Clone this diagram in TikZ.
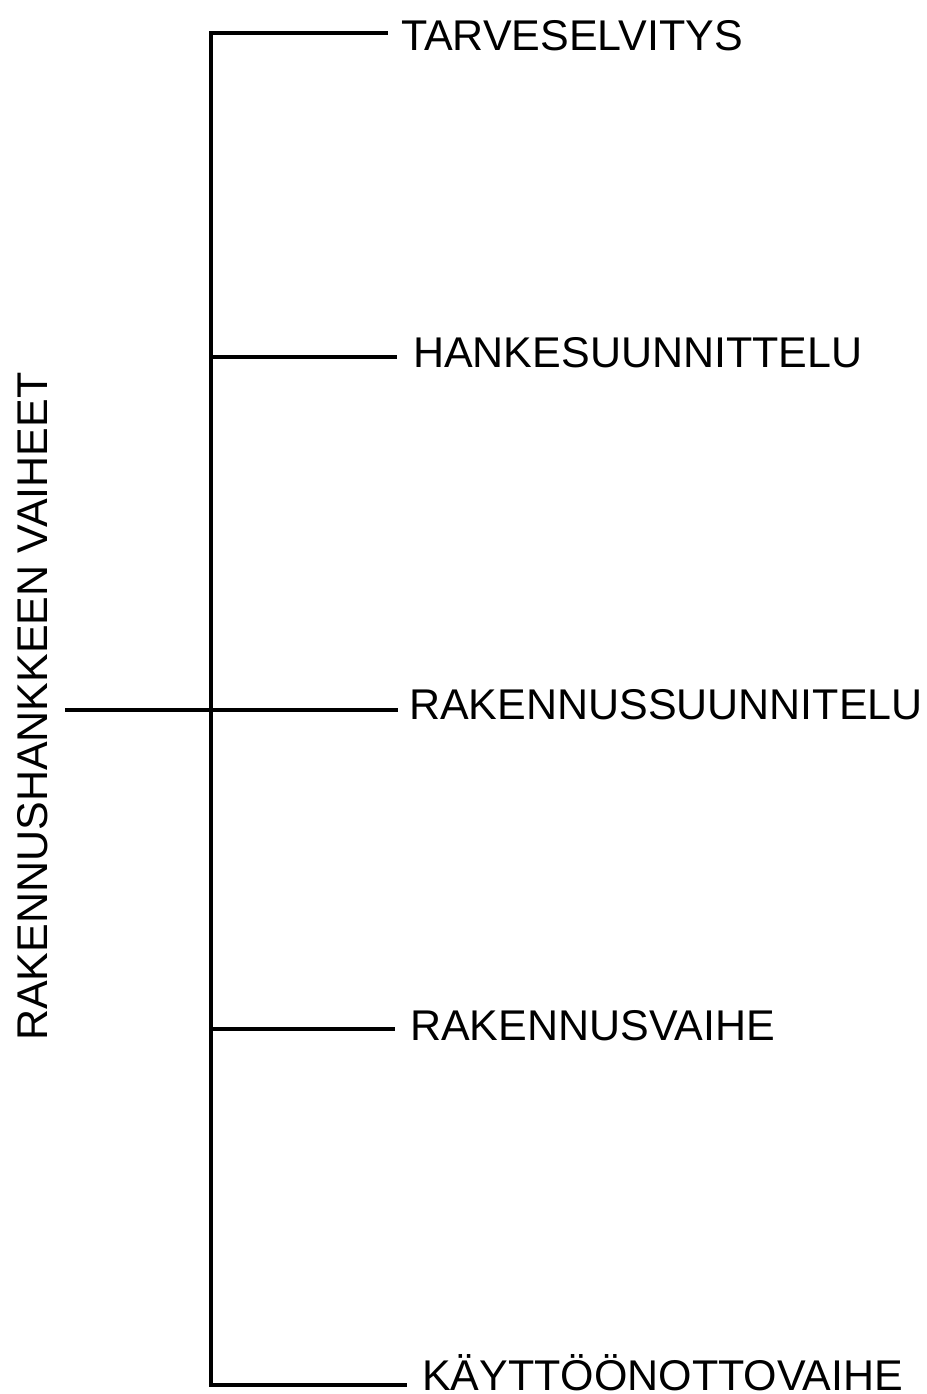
\documentclass[tikz,border=0pt]{standalone}
\usepackage{fontspec}
\setmainfont{Liberation Sans}
\begin{document}
\begin{tikzpicture}[x=1pt,y=-1pt,
  lbl/.style={anchor=base west,inner sep=0pt,font=\fontsize{43}{51}\selectfont},
  conn/.style={line width=4pt}]
\useasboundingbox (0,0) rectangle (926,1394);
% trunk
\coordinate (top) at (211,33);
\coordinate (bot) at (211,1385);
\coordinate (mid) at (211,710);
\coordinate (j2) at (211,357);
\coordinate (j4) at (211,1029);
% line ends
\coordinate (e1) at (386,33);
\coordinate (e2) at (397,357);
\coordinate (e3) at (398,710);
\coordinate (e4) at (395,1029);
\coordinate (e5) at (405,1385);
\coordinate (root) at (65,710);
% labels
\node[lbl] (l1) at (401,51) {TARVESELVITYS};
\node[lbl] (l2) at (413,367) {HANKESUUNNITTELU};
\node[lbl] (l3) at (409,719) {RAKENNUSSUUNNITELU};
\node[lbl] (l4) at (410,1040) {RAKENNUSVAIHE};
\node[lbl] (l5) at (422,1390) {KÄYTTÖÖNOTTOVAIHE};
\node[lbl,rotate=90] (main) at (47,1041) {RAKENNUSHANKKEEN VAIHEET};
% connectors
\draw[conn,line cap=rect] (e1) -- (top) -- (bot) -- (e5);
\draw[conn] (j2) -- (e2);
\draw[conn] (root) -- (e3);
\draw[conn] (j4) -- (e4);
\end{tikzpicture}
\end{document}
